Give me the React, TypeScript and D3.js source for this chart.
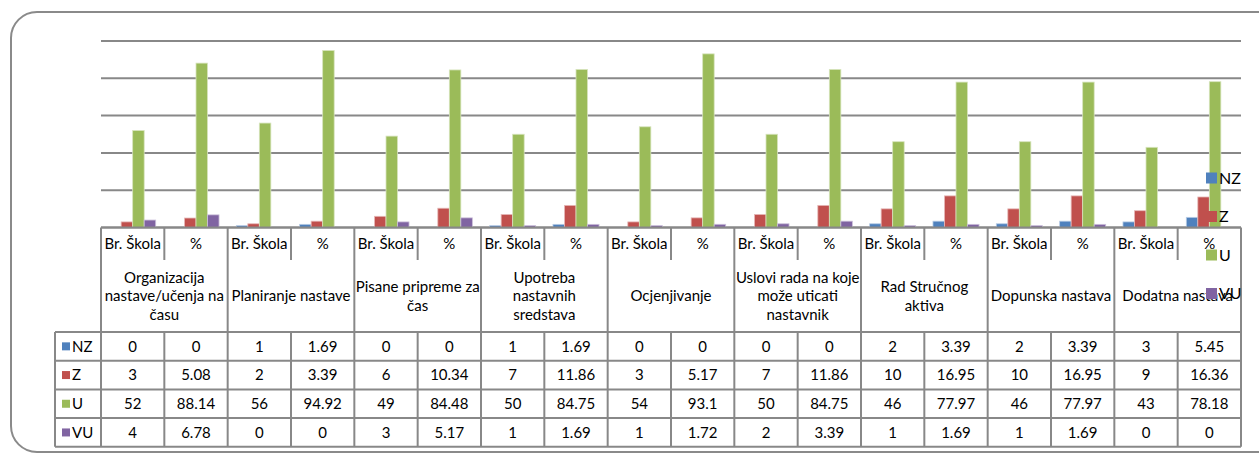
import React from "react";
import * as d3 from "d3";

const groups = [
  "Organizacija\nnastave/učenja na\nčasu",
  "Planiranje nastave",
  "Pisane pripreme za\nčas",
  "Upotreba\nnastavnih\nsredstava",
  "Ocjenjivanje",
  "Uslovi rada na koje\nmože uticati\nnastavnik",
  "Rad Stručnog\naktiva",
  "Dopunska nastava",
  "Dodatna nastava",
];
const subLabels = ["Br. Škola", "%"];
const seriesNames = ["NZ", "Z", "U", "VU"];
const seriesColors = ["#4F81BD", "#C0504D", "#9BBB59", "#8064A2"];
const seriesStrokes = ["#B9CDE5", "#E6B9B8", "#D7E4BD", "#CCC1DA"];
const nzValues = [0, 0, 1, 1.69, 0, 0, 1, 1.69, 0, 0, 0, 0, 2, 3.39, 2, 3.39, 3, 5.45];
const zValues = [3, 5.08, 2, 3.39, 6, 10.34, 7, 11.86, 3, 5.17, 7, 11.86, 10, 16.95, 10, 16.95, 9, 16.36];
const uValues = [52, 88.14, 56, 94.92, 49, 84.48, 50, 84.75, 54, 93.1, 50, 84.75, 46, 77.97, 46, 77.97, 43, 78.18];
const vuValues = [4, 6.78, 0, 0, 3, 5.17, 1, 1.69, 1, 1.72, 2, 3.39, 1, 1.69, 1, 1.69, 0, 0];
const yTicks = [0, 20, 40, 60, 80, 100];

const allSeries = [nzValues, zValues, uValues, vuValues];

export default function App() {
  const W = 1259, H = 456;
  const left = 101, right = 1241, top = 41, base = 227.5;
  const cols = d3.range(groups.length * 2);
  const x = d3.scaleBand<number>().domain(cols).range([left, right]).padding(0);
  const inner = d3.scaleBand<number>().domain(d3.range(4)).range([0, x.bandwidth()]).paddingInner(0).paddingOuter(0.75);
  const y = d3.scaleLinear().domain([0, 100]).range([base, top]);
  const font = "Lato, 'Open Sans', sans-serif";
  const grid = "#888888";

  const hdr1Bottom = 260, hdr2Bottom = 332;
  const rowH = 28.7;
  const tableLeft = 55;
  const rowYs = d3.range(5).map((i) => hdr2Bottom + i * rowH);

  return (
    <svg width={W} height={H} style={{ position: "absolute", left: 0, top: 0 }} fontFamily={font}>
      <rect x={11} y={12} width={1280} height={440} rx={26} ry={26} fill="white" stroke="#8a8a8a" strokeWidth={2} />
      {yTicks.map((t) => (
        <line key={t} x1={left} x2={right} y1={y(t)} y2={y(t)} stroke={grid} strokeWidth={2} />
      ))}
      {allSeries.map((vals, si) =>
        vals.map((v, ci) =>
          v > 0 ? (
            <rect
              key={si + "-" + ci}
              x={(x(ci) as number) + (inner(si) as number)}
              y={y(v)}
              width={inner.bandwidth()}
              height={base - y(v)}
              fill={seriesColors[si]}
              stroke={seriesStrokes[si]}
              strokeWidth={0.8}
            />
          ) : null
        )
      )}
      {/* table */}
      <g stroke={grid} strokeWidth={2} fill="none">
        <line x1={left} x2={right} y1={base} y2={base} />
        {rowYs.map((ry, i) => (
          <line key={i} x1={tableLeft} x2={right} y1={ry} y2={ry} />
        ))}
        <line x1={left} x2={left} y1={base} y2={rowYs[4]} />
        <line x1={tableLeft} x2={tableLeft} y1={hdr2Bottom} y2={rowYs[4]} />
        {cols.map((c) => {
          const xx = x(c) as number;
          if (c === 0) return null;
          if (c % 2 === 1)
            return (
              <g key={c}>
                <line x1={xx} x2={xx} y1={base} y2={hdr1Bottom} />
                <line x1={xx} x2={xx} y1={hdr2Bottom} y2={rowYs[4]} />
              </g>
            );
          return <line key={c} x1={xx} x2={xx} y1={base} y2={rowYs[4]} />;
        })}
        <line x1={right} x2={right} y1={base} y2={rowYs[4]} />
      </g>
      <g fontSize={15} fill="#000" textAnchor="middle">
        {cols.map((c) => (
          <text key={c} x={(x(c) as number) + x.bandwidth() / 2} y={(base + hdr1Bottom) / 2} dy="0.35em">
            {subLabels[c % 2]}
          </text>
        ))}
        {groups.map((g, gi) => {
          const lines = g.split("\n");
          const cx = (x(gi * 2) as number) + x.bandwidth();
          const cy = (hdr1Bottom + hdr2Bottom) / 2;
          const lh = 18.5;
          return (
            <text key={gi} x={cx} y={cy - ((lines.length - 1) * lh) / 2} dy="0.35em">
              {lines.map((l, li) => (
                <tspan key={li} x={cx} dy={li === 0 ? "0.35em" : lh}>
                  {l}
                </tspan>
              ))}
            </text>
          );
        })}
        {allSeries.map((vals, si) =>
          vals.map((v, ci) => (
            <text key={si + "-" + ci} x={(x(ci) as number) + x.bandwidth() / 2} y={(rowYs[si] + rowYs[si + 1]) / 2} dy="0.35em">
              {String(v)}
            </text>
          ))
        )}
      </g>
      {seriesNames.map((n, si) => {
        const cy = (rowYs[si] + rowYs[si + 1]) / 2;
        return (
          <g key={n}>
            <rect x={62} y={cy - 4} width={8} height={8} fill={seriesColors[si]} />
            <text x={72} y={cy} dy="0.35em" fontSize={15}>{n}</text>
          </g>
        );
      })}
      {/* legend */}
      {seriesNames.map((n, si) => {
        const cy = 178 + si * 38.5;
        return (
          <g key={"lg" + n}>
            <rect x={1206} y={cy - 5.5} width={11} height={11} fill={seriesColors[si]} />
            <text x={1219} y={cy} dy="0.35em" fontSize={16}>{n}</text>
          </g>
        );
      })}
    </svg>
  );
}
